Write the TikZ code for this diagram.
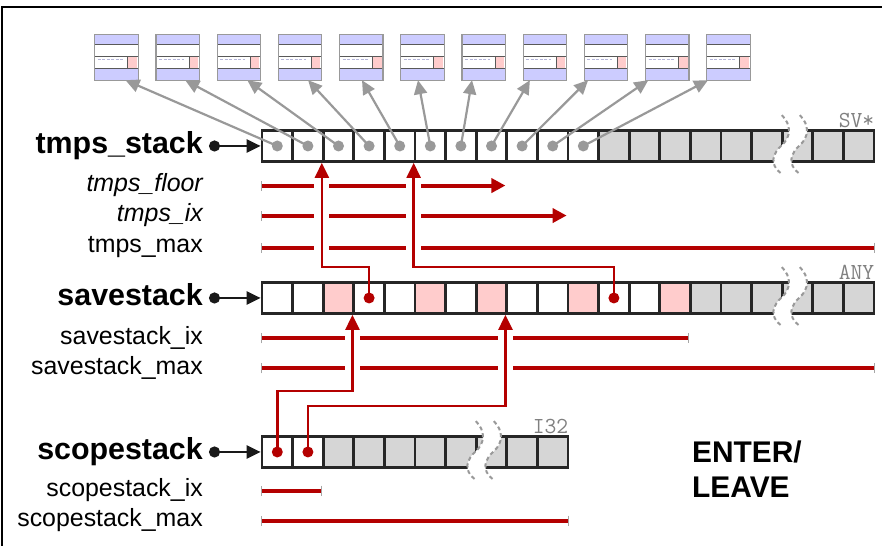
\documentclass[tikz,border=0pt]{standalone}
\usepackage{fontspec}
\setmainfont{Liberation Sans}
\usetikzlibrary{arrows.meta,positioning,calc}
\definecolor{darkred}{RGB}{180,0,0}
\definecolor{lavender}{RGB}{204,204,255}
\definecolor{lightpink}{RGB}{255,204,204}
\definecolor{cellgray}{RGB}{214,214,214}
\definecolor{ptrgray}{RGB}{153,153,153}

% wavy cut through a stack, #1 = north west corner of the cut cell
\newcommand{\stackbreak}[1]{%
  \begin{scope}[shift={(#1)}]
    \fill[white] (1,14) .. controls (11,4) and (10,-8) .. (1,-16) .. controls (-8,-24) and (-12,-35) .. (0,-44)
      -- (18,-44) .. controls (6,-35) and (10,-24) .. (19,-16) .. controls (28,-8) and (29,4) .. (19,14) -- cycle;
    \foreach \dx in {0,18}
      \draw[brkline,shift={(\dx,0)}] (1,14) .. controls (11,4) and (10,-8) .. (1,-16) .. controls (-8,-24) and (-12,-35) .. (0,-44);
  \end{scope}}

\begin{document}
\begin{tikzpicture}[x=1bp,y=1bp,
  cell/.style={draw=black!85,line width=2.7bp,fill=white,minimum width=30.6bp,minimum height=31bp,inner sep=0pt},
  rec/.style={fill=lavender,minimum width=43bp,minimum height=45bp,inner sep=0pt},
  recframe/.style={draw=black!40,line width=1.2bp},
  recline/.style={draw=black!65,line width=1bp},
  head/.style={font=\fontsize{30.5}{30}\selectfont\bfseries,inner sep=0pt,anchor=base east},
  var/.style={font=\fontsize{25}{25}\selectfont,inner sep=0pt,anchor=base east},
  tag/.style={font=\ttfamily\fontsize{23}{23}\selectfont,text=black!50,inner sep=1bp,anchor=south east},
  lblptr/.style={draw=black!90,line width=2.4bp,{Circle[length=11bp]}-{Triangle[length=14bp,width=13bp]}},
  gptr/.style={draw=ptrgray,line width=2.2bp,-{Triangle[length=14bp,width=13bp]}},
  rptr/.style={draw=darkred,line width=2.4bp,-{Triangle[length=15bp,width=14bp]}},
  idx/.style={draw=darkred,line width=4bp},
  idxarrow/.style={idx,{Bar[width=10bp,line width=1.3bp,color=black!35]}-{Triangle[length=14bp,width=14bp]}},
  idxspan/.style={idx,{Bar[width=10bp,line width=1.3bp,color=black!35]}-{Bar[width=10bp,line width=1.3bp,color=black!35]}},
  halo/.style={draw=white,line width=15bp},
  brkline/.style={draw=ptrgray,line width=2bp,dash pattern=on 4bp off 3bp}
]
  \useasboundingbox (0,0) rectangle (882,546);
  \draw[line width=2bp] (2,0) -- (2,539) -- (882,539);

  % the SV records
  \foreach \i in {0,...,10} {
    \node[rec] (rec\i) at ({116.5+61.2*\i},488.5) {};
    \begin{scope}[shift={(rec\i.north west)}]
      \fill[white] (0,-10) rectangle (43,-33.5);
      \fill[lightpink] (33,-22) rectangle (42,-33.5);
      \draw[lavender!70!gray,line width=1bp,dash pattern=on 3bp off 1.5bp] (3,-25) -- (28,-25);
      \draw[recline] (0,-10) -- (43,-10) (0,-22) -- (43,-22) (0,-33.5) -- (43,-33.5) (33,-22) -- (33,-33.5);
    \end{scope}
    \draw[recframe] (rec\i.south west) rectangle (rec\i.north east);
  }

  % stacks
  \foreach \i in {0,...,10} \node[cell] (t\i) at ({277.3+30.6*\i},400) {};
  \foreach \i in {11,...,19} \node[cell,fill=cellgray] (t\i) at ({277.3+30.6*\i},400) {};
  \foreach \i in {0,1,3,4,6,8,9,11,12} \node[cell] (s\i) at ({277.3+30.6*\i},248) {};
  \foreach \i in {2,5,7,10,13} \node[cell,fill=lightpink] (s\i) at ({277.3+30.6*\i},248) {};
  \foreach \i in {14,...,19} \node[cell,fill=cellgray] (s\i) at ({277.3+30.6*\i},248) {};
  \foreach \i in {0,1} \node[cell] (c\i) at ({277.3+30.6*\i},94) {};
  \foreach \i in {2,...,9} \node[cell,fill=cellgray] (c\i) at ({277.3+30.6*\i},94) {};
  \stackbreak{t17.north west}
  \stackbreak{s17.north west}
  \stackbreak{c7.north west}

  \node[tag] (svtag) at (t19.north east) {SV*};
  \node[tag] (anytag) at (s19.north east) {ANY};
  \node[tag] (i32tag) at (c9.north east) {I32};

  % tmps entries point at the records
  \foreach \i/\dx in {0/9,1/7.5,2/8.4,3/8,4/0.7,5/-4.5,6/-11.7,7/-15,8/-18,9/-19,10/-20.5}
    \draw[gptr] (t\i.center) -- ([xshift=\dx bp]rec\i.south);
  \foreach \i in {0,...,10} \fill[ptrgray] (t\i) circle (5.5bp);

  % names
  \node[head] (tmpslbl) at (203,392) {tmps\_stack};
  \node[var] (floorlbl) at (203,354) {\itshape tmps\_floor};
  \node[var] (ixlbl) at (203,324) {\itshape tmps\_ix};
  \node[var] (maxlbl) at (203,293) {tmps\_max};
  \node[head] (savelbl) at (203,240) {savestack};
  \node[var] (saveixlbl) at (203,201) {savestack\_ix};
  \node[var] (savemaxlbl) at (203,171) {savestack\_max};
  \node[head] (scopelbl) at (203,86) {scopestack};
  \node[var] (scopeixlbl) at (203,49) {scopestack\_ix};
  \node[var] (scopemaxlbl) at (203,19) {scopestack\_max};

  \draw[lblptr] ([xshift=6bp]t0.west -| tmpslbl.east) -- (t0.west);
  \draw[lblptr] ([xshift=6bp]s0.west -| savelbl.east) -- (s0.west);
  \draw[lblptr] ([xshift=6bp]c0.west -| scopelbl.east) -- (c0.west);

  % index ranges
  \draw[idxarrow] (t0.south west |- floorlbl) -- (t8.south west |- floorlbl);
  \draw[idxarrow] (t0.south west |- ixlbl) -- (t10.south west |- ixlbl);
  \draw[idxspan] (t0.south west |- maxlbl) -- (t19.south east |- maxlbl);
  \draw[idxspan] (s0.south west |- saveixlbl) -- (s14.south west |- saveixlbl);
  \draw[idxspan] (s0.south west |- savemaxlbl) -- (s19.south east |- savemaxlbl);
  \draw[idxspan] (c0.south west |- scopeixlbl) -- (c2.south west |- scopeixlbl);
  \draw[idxspan] (c0.south west |- scopemaxlbl) -- (c9.south east |- scopemaxlbl);

  % saved floors
  \draw[halo] ([yshift=-9bp]t2.south west |- maxlbl) -- ([yshift=-7bp]t2.south west);
  \draw[halo] ([yshift=-9bp]t5.south west |- maxlbl) -- ([yshift=-7bp]t5.south west);
  \draw[halo] ([yshift=-9bp]s3.south west |- savemaxlbl) -- ([yshift=-7bp]s3.south west);
  \draw[halo] ([yshift=-9bp]s8.south west |- savemaxlbl) -- ([yshift=-7bp]s8.south west);
  \draw[rptr] (s3.center) -- ++(0,31) -| (t2.south west);
  \draw[rptr] (s11.center) -- ++(0,31) -| (t5.south west);
  \draw[rptr] (c0.center) -- ++(0,61) -| (s3.south west);
  \draw[rptr] (c1.center) -- ++(0,46) -| (s8.south west);
  \foreach \n in {s3,s11,c0,c1} \fill[darkred] (\n) circle (5.5bp);

  \node[font=\fontsize{30}{35}\selectfont\bfseries,align=left,anchor=west,inner sep=0pt] (enterleave) at (692,76.5) {ENTER/\\LEAVE};
\end{tikzpicture}
\end{document}
